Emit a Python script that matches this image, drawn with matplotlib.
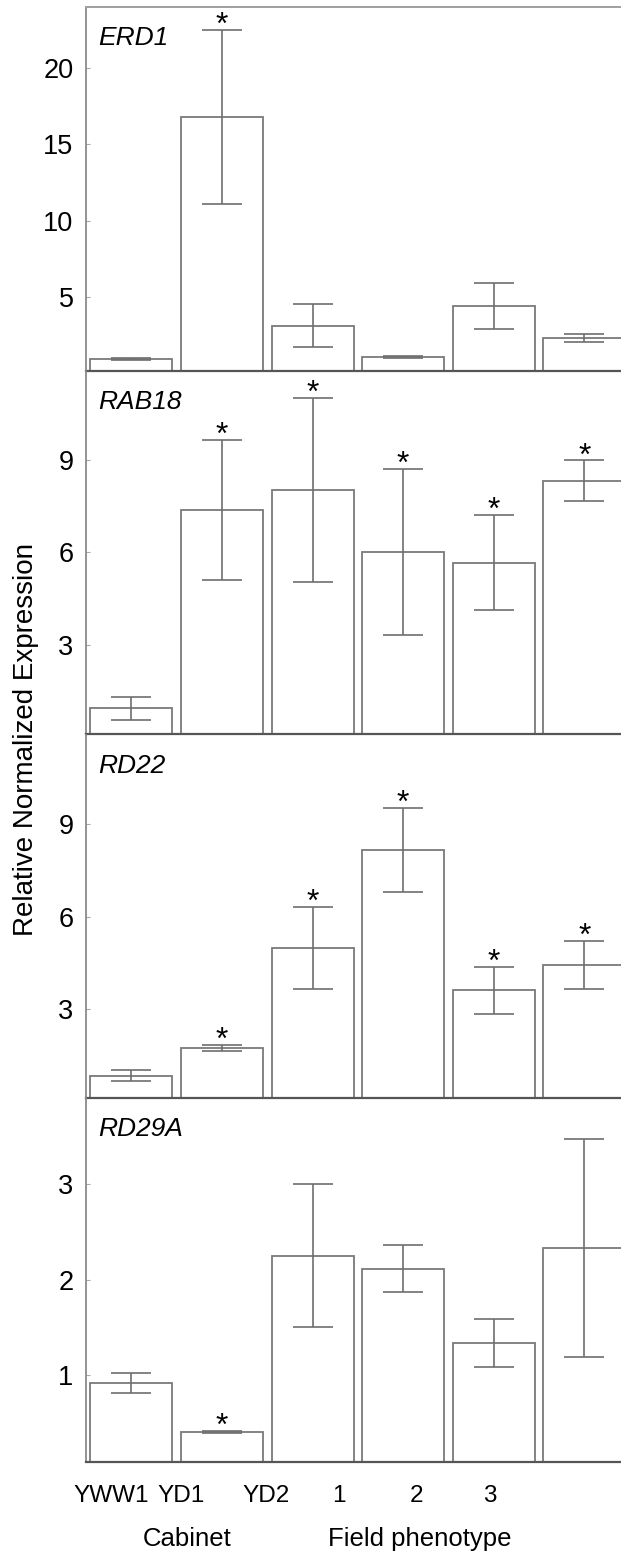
import matplotlib
matplotlib.use("Agg")
import matplotlib.pyplot as plt
import numpy as np

plt.rcParams['font.family'] = ['Liberation Sans', 'DejaVu Sans']

categories = ["YWW1", "YD1", "YD2", "1", "2", "3"]
label_pos = [-0.226, 0.546, 1.485, 2.29, 3.15, 3.96]
groups = ["Cabinet", "Field phenotype"]
genes = ["ERD1", "RAB18", "RD22", "RD29A"]

erd1_mean = [0.96, 16.8, 3.14, 1.09, 4.43, 2.35]
erd1_se = [0.05, 5.7, 1.42, 0.05, 1.53, 0.27]
erd1_sig = [0, 1, 0, 0, 0, 0]

rab18_mean = [0.94, 7.38, 8.03, 6.01, 5.67, 8.33]
rab18_se = [0.36, 2.27, 3.0, 2.70, 1.55, 0.66]
rab18_sig = [0, 1, 1, 1, 1, 1]

rd22_mean = [0.83, 1.74, 4.99, 8.16, 3.61, 4.44]
rd22_se = [0.18, 0.11, 1.34, 1.37, 0.77, 0.78]
rd22_sig = [0, 1, 1, 1, 1, 1]

rd29a_mean = [0.92, 0.41, 2.25, 2.11, 1.34, 2.33]
rd29a_se = [0.10, 0.01, 0.75, 0.245, 0.25, 1.14]
rd29a_sig = [0, 1, 0, 0, 0, 0]

yticks = [[5, 10, 15, 20], [3, 6, 9], [3, 6, 9], [1, 2, 3]]
ylims = [(0.17, 24.0), (0.1, 11.89), (0.13, 11.9), (0.10, 3.89)]
means = [erd1_mean, rab18_mean, rd22_mean, rd29a_mean]
ses = [erd1_se, rab18_se, rd22_se, rd29a_se]
sigs = [erd1_sig, rab18_sig, rd22_sig, rd29a_sig]

W, H = 621, 1555
fig = plt.figure(figsize=(W / 100, H / 100), dpi=100)

# panel pixel extents (top, bottom)
panels_px = [(7, 371), (371, 734.3), (735, 1097.5), (1098.3, 1461.7)]
left_px, right_px = 86, 629.7

edge = '#7a7a7a'
x = np.arange(len(categories))
axes = []
for k, (t, b) in enumerate(panels_px):
    ax = fig.add_axes([left_px / W, 1 - b / H, (right_px - left_px) / W, (b - t) / H])
    ax.bar(x, means[k], width=0.905, color='white', edgecolor=edge, linewidth=1.3, zorder=2)
    ax.errorbar(x, means[k], yerr=ses[k], fmt='none', ecolor='#6e6e6e', elinewidth=1.2,
                capsize=14.7, capthick=1.2, zorder=3)
    for i in range(len(categories)):
        if sigs[k][i]:
            ax.annotate('*', xy=(x[i], means[k][i] + ses[k][i]), xytext=(0, -3),
                        textcoords='offset points', ha='center', va='baseline',
                        fontsize=23, color='black', zorder=4)
    ax.set_xlim(-0.5, 5.5)
    ax.set_ylim(*ylims[k])
    ax.set_yticks(yticks[k])
    ax.tick_params(axis='y', direction='in', length=3, width=0.8, color='#aaaaaa',
                   labelsize=19.5, pad=9)
    ax.spines['right'].set_visible(False)
    ax.spines['left'].set_color('#8a8a8a')
    ax.spines['left'].set_linewidth(1.3)
    ax.spines['bottom'].set_color('#555555')
    ax.spines['bottom'].set_linewidth(1.6)
    if k == 0:
        ax.spines['top'].set_color('#a0a0a0')
        ax.spines['top'].set_linewidth(1.4)
    else:
        ax.spines['top'].set_visible(False)
    ax.text(12 / (right_px - left_px), 1 - 31 / (b - t), genes[k], transform=ax.transAxes,
            fontsize=19, style='italic', ha='left', va='center')
    if k == 3:
        ax.set_xticks(label_pos)
        ax.set_xticklabels(categories)
        ax.tick_params(axis='x', length=0, labelsize=17.5, pad=17)
    else:
        ax.set_xticks([])
    ax.patch.set_alpha(0)
    axes.append(ax)

fig.text(26 / W, 1 - 740 / H, "Relative Normalized Expression", rotation=90,
         ha='center', va='center', fontsize=20)
fig.text(187 / W, 1 - 1539 / H, groups[0], ha='center', va='center', fontsize=18.5)
fig.text(420 / W, 1 - 1539 / H, groups[1], ha='center', va='center', fontsize=18.5)

fig.savefig("out.png", dpi=100)
